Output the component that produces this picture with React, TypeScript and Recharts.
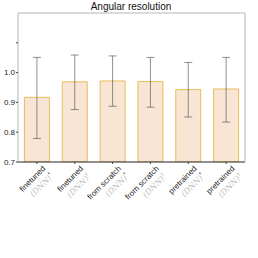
import React from 'react';
import { BarChart, Bar, XAxis, YAxis, ErrorBar, ReferenceLine } from 'recharts';

const labels = ['finetuned', 'finetuned', 'from scratch', 'from scratch', 'pretrained', 'pretrained'];
const marks = ['*', '†', '*', '†', '*', '†'];
const means = [0.917, 0.969, 0.972, 0.970, 0.943, 0.945];
const lows = [0.779, 0.876, 0.887, 0.884, 0.851, 0.834];
const highs = [1.051, 1.059, 1.056, 1.051, 1.034, 1.051];
const yTicks = [0.7, 0.8, 0.9, 1.0, 1.1];
const yTickLabels = ['0.7', '0.8', '0.9', '1.0', ''];

const data = labels.map((label, i) => ({
  key: i,
  label,
  value: means[i],
  err: [means[i] - lows[i], highs[i] - means[i]],
}));

const font = '"Liberation Sans", Arial, sans-serif';

const CategoryTick = (props: any) => {
  const { x, y, payload } = props;
  const i = payload.value;
  return (
    <g transform={`translate(${x + 9},${y + 3})`}>
      <text transform="rotate(-45)" textAnchor="end" fontSize={8} fontFamily={font} fill="#222">
        <tspan x={0} dy={0}>{labels[i]}</tspan>
        <tspan x={0} dy={11} fill="#bdbdbd" fontFamily='"DejaVu Serif", serif' fontStyle="italic">(DNN)</tspan>
        <tspan dy={-3} fontSize={6} fill={i % 2 === 0 ? '#444' : '#bdbdbd'}>{marks[i]}</tspan>
      </text>
    </g>
  );
};

export default function App() {
  return (
    <div style={{ position: 'absolute', left: 0, top: 0, width: 258, height: 258, background: '#fff' }}>
      <div style={{ position: 'absolute', left: 2, top: 1, width: 258, textAlign: 'center', fontFamily: font, fontSize: 10, color: '#111' }}>
        Angular resolution
      </div>
      <BarChart width={258} height={258} data={data} margin={{ top: 13, right: 0, left: 0, bottom: 0 }} barCategoryGap="17%">
        <XAxis
          dataKey="key"
          height={96}
          interval={0}
          tickSize={2}
          tickLine={{ stroke: '#444' }}
          axisLine={{ stroke: '#222' }}
          tick={<CategoryTick />}
        />
        <YAxis
          yAxisId="l"
          width={18}
          domain={[0.7, 1.2]}
          ticks={yTicks}
          tickFormatter={(v: number) => yTickLabels[yTicks.indexOf(v)] ?? ''}
          tickSize={2}
          tickMargin={1}
          tick={{ fontSize: 8, fontFamily: font, fill: '#222' }}
          tickLine={{ stroke: '#444' }}
          axisLine={{ stroke: '#b5b5b5' }}
          allowDataOverflow
        />
        <YAxis yAxisId="r" orientation="right" width={13} domain={[0.7, 1.2]} tick={false} tickLine={false} axisLine={{ stroke: '#b5b5b5' }} />
        <ReferenceLine yAxisId="l" y={1.2} stroke="#b5b5b5" />
        <Bar yAxisId="l" dataKey="value" fill="#f8e5d3" stroke="#eabd5c" strokeWidth={1} isAnimationActive={false}>
          <ErrorBar dataKey="err" width={4} stroke="#555" strokeOpacity={0.65} strokeWidth={1} />
        </Bar>
      </BarChart>
    </div>
  );
}
